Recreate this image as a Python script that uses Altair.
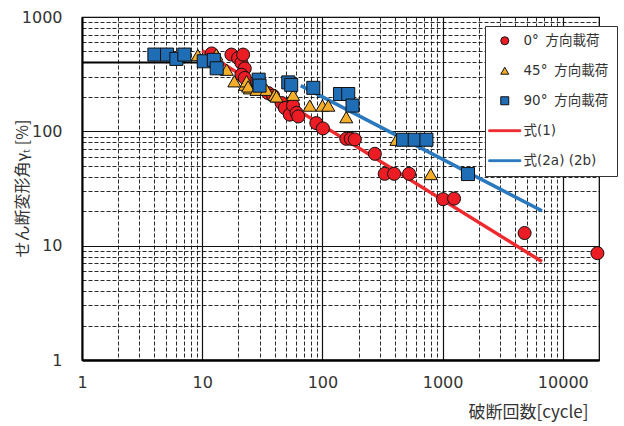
import altair as alt
import pandas as pd

# Fatigue test results: cycles to failure vs. shear strain (%)
x_0deg = [12.0, 17.5, 19.9, 21.2, 21.9, 22.6, 21.2, 22.6, 35.4, 38.9, 45.7, 48.7, 53.5,
          57, 61, 63, 89, 101, 158, 172, 186, 273, 330, 395, 526, 1008, 1245, 4810, 19400]
y_0deg = [480, 469, 437, 397, 469, 355, 313, 293, 216, 205, 177, 160, 140,
          168, 145, 135, 118, 106, 86, 86, 85, 63.6, 42.5, 42.5, 42.5, 25.5, 25.8, 12.9, 8.6]

x_45deg = [9.2, 13.1, 16.0, 18.5, 22.7, 23.4, 24.9, 24.1, 28.3, 34.3, 40, 41.5, 57,
           78.5, 100, 112, 158, 413, 796]
y_45deg = [465, 469, 346, 274, 256, 274, 238, 247, 231, 231, 209, 202, 209,
           168, 168, 168, 133, 84.4, 42.3]

x_90deg = [4.0, 5.1, 6.1, 7.1, 10.3, 12.5, 13.2, 29.5, 30, 52, 55, 84, 140, 164, 178,
           469, 586, 733, 1626]
y_90deg = [469, 469, 430, 469, 410, 422, 356, 283, 251, 268, 255, 240, 212, 212, 168,
           84.4, 84.4, 84.4, 42.3]

# Fitted relations (end points)
eq1_x = [10, 6700]
eq1_y = [506, 7.26]
eq2_x = [66, 6700]
eq2_y = [251, 20.2]
plateau_x = [1, 10]
plateau_y = [400, 400]

series = ["0°\u2002方向載荷", "45°\u2002方向載荷", "90°\u2002方向載荷", "式(1)", "式(2a) (2b)"]
fill_colors = ["#EC1C24", "#F5AE2A", "#1F6DB5", "#EE2A2E", "#2A78BD"]
stroke_colors = ["#111111", "#111111", "#111111", "#EE2A2E", "#2A78BD"]
line_symbol = "M-4,-0.22H4V0.22H-4Z"
shapes = ["circle", "triangle-up", "square", line_symbol, line_symbol]

pts = pd.concat([
    pd.DataFrame({"N": x_0deg, "g": y_0deg, "series": series[0]}),
    pd.DataFrame({"N": x_45deg, "g": y_45deg, "series": series[1]}),
    pd.DataFrame({"N": x_90deg, "g": y_90deg, "series": series[2]}),
], ignore_index=True)

eq1 = pd.DataFrame({"N": eq1_x, "g": eq1_y})
eq2 = pd.DataFrame({"N": eq2_x, "g": eq2_y})
plateau = pd.DataFrame({"N": plateau_x, "g": plateau_y})

x_ticks = [m * 10 ** e for e in range(4) for m in range(1, 10)] + [10000, 20000]
y_ticks = [m * 10 ** e for e in range(3) for m in range(1, 10)] + [1000]

major_test = "indexof([1,10,100,1000,10000],datum.value)>=0"
grid_dash = {"condition": {"test": major_test, "value": [1, 0]}, "value": [4, 2]}
grid_width = {"condition": {"test": major_test, "value": 1.2}, "value": 0.9}
label_expr = f"{major_test} ? datum.label : ''"

jp_font = "Noto Sans CJK JP"
num_font = "DejaVu Sans"

x_enc = alt.X(
    "N:Q",
    scale=alt.Scale(type="log", domain=[1, 20000], nice=False),
    axis=alt.Axis(
        values=x_ticks, labelExpr=label_expr, format="d", labelFlush=False,
        grid=True, gridColor="#111111", gridDash=grid_dash, gridWidth=grid_width,
        ticks=False, domainColor="#000000", domainWidth=2.5,
        labelFont=num_font, labelFontSize=16, labelColor="#333333", labelPadding=14,
        title="破断回数[cycle]", titleFont=jp_font, titleFontSize=17,
        titleFontWeight="normal", titleColor="#333333",
        titleAlign="right", titleBaseline="middle", titleX=506, titleY=52,
    ),
)
y_enc = alt.Y(
    "g:Q",
    scale=alt.Scale(type="log", domain=[1, 1000], nice=False),
    axis=alt.Axis(
        values=y_ticks, labelExpr=label_expr, format="d", labelFlush=False,
        grid=True, gridColor="#111111", gridDash=grid_dash, gridWidth=grid_width,
        ticks=False, domainColor="#000000", domainWidth=2,
        labelFont=num_font, labelFontSize=16, labelColor="#333333", labelPadding=20,
        title="せん断変形角γₜ [%]", titleFont=jp_font, titleFontSize=16,
        titleFontWeight="normal", titleColor="#333333",
        titleAngle=-90, titleAlign="center", titleBaseline="middle",
        titleX=-60, titleY=171,
    ),
)

plateau_line = alt.Chart(plateau).mark_line(color="#000000", strokeWidth=2).encode(x=x_enc, y=y_enc)
eq1_line = alt.Chart(eq1).mark_line(color="#EE2A2E", strokeWidth=3.5).encode(x=x_enc, y=y_enc)
eq2_line = alt.Chart(eq2).mark_line(color="#2A78BD", strokeWidth=3.5).encode(x=x_enc, y=y_enc)

legend = alt.Legend(
    title=None, orient="none", legendX=403, legendY=9,
    fillColor="#FFFFFF", strokeColor="#333333", padding=8,
    symbolSize=64, symbolStrokeWidth=1, symbolOffset=5,
    labelFont=num_font + ", " + jp_font, labelFontSize=13.5, labelColor="#333333",
    labelOffset=12, rowPadding=15,
)

points = alt.Chart(pts).mark_point(filled=True, size=170, opacity=1, strokeWidth=1).encode(
    x=x_enc,
    y=y_enc,
    fill=alt.Fill("series:N", scale=alt.Scale(domain=series, range=fill_colors), legend=legend),
    stroke=alt.Stroke("series:N", scale=alt.Scale(domain=series, range=stroke_colors), legend=legend),
    shape=alt.Shape("series:N", scale=alt.Scale(domain=series, range=shapes), legend=legend),
)

chart = alt.layer(plateau_line, eq1_line, eq2_line, points).properties(
    width=517, height=343,
    autosize=alt.AutoSizeParams(type="none"),
    padding={"left": 82, "top": 17, "right": 25, "bottom": 66},
    background="white",
).configure_view(stroke="#000000", strokeWidth=1.2)

chart.save("out.html", embed_options={"renderer": "svg", "actions": False})
